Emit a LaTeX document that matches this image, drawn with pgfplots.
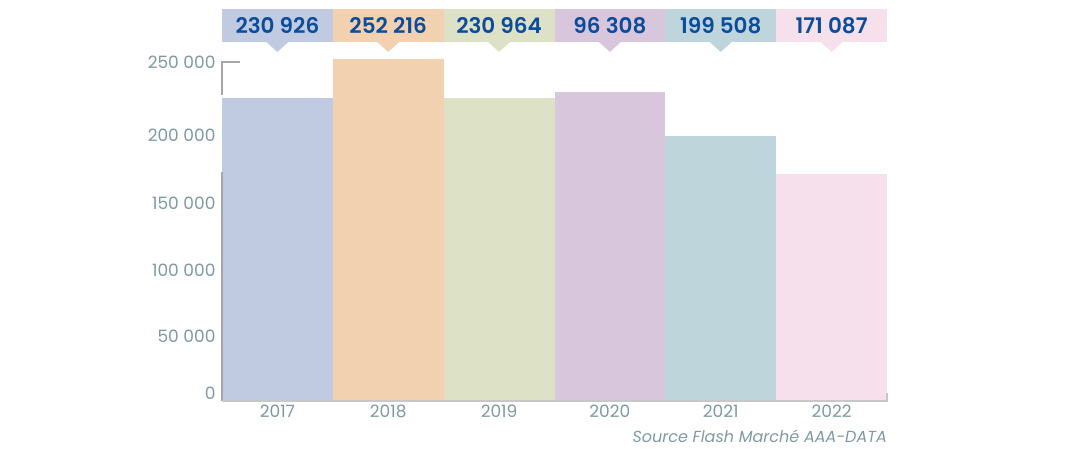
\documentclass[border=0pt]{standalone}
\usepackage{pgfplots}
\pgfplotsset{compat=1.18}
\usepackage{fontspec}
\setmainfont{Poppins}[BoldFont={Poppins SemiBold}]
\definecolor{c1}{HTML}{C0CAE1}
\definecolor{c2}{HTML}{F2D1B1}
\definecolor{c3}{HTML}{DDE1C6}
\definecolor{c4}{HTML}{D8C6DD}
\definecolor{c5}{HTML}{BDD5DB}
\definecolor{c6}{HTML}{F6E0EC}
\definecolor{tickc}{HTML}{7F99A2}
\definecolor{numc}{HTML}{0B4C9B}
\definecolor{linec}{HTML}{A6A6A6}
\definecolor{basec}{HTML}{C8C8C8}
\newcommand{\callout}[4]{%
  \fill[#3] (axis cs:#1,264750) rectangle (axis cs:#2,289100);
  \fill[#3] (axis cs:#1+0.4,264750) -- (axis cs:#1+0.5,257400) -- (axis cs:#1+0.6,264750) -- cycle;
  \node[text=numc, inner sep=0pt, font=\fontsize{21.5}{21.5}\selectfont\bfseries] at (axis cs:#1+0.5,276900) {#4};
}
\begin{document}
\begin{tikzpicture}
\path[use as bounding box] (-222pt,-50pt) rectangle (856pt,401pt);
\begin{axis}[at={(0,0)}, anchor=south west, scale only axis,
  width=665pt, height=352.6pt,
  xmin=-0.5, xmax=5.5, ymin=0, ymax=260000, clip=false,
  axis line style={draw=none}, major tick length=0pt,
  xtick={0,1,2,3,4,5}, xticklabels={2017,2018,2019,2020,2021,2022},
  ytick={5900,47900,96600,146000,196200,250000},
  yticklabels={0,50 000,100 000,150 000,200 000,250 000},
  tick label style={font=\fontsize{17}{17}\selectfont, text=tickc},
  /pgf/number format/assume math mode=true,
  yticklabel style={xshift=-3pt},
  xticklabel style={yshift=0pt},
  ]
\addplot[ybar, bar width=1, bar shift=0pt, fill=c1, draw=none] coordinates {(0,223500)};
\addplot[ybar, bar width=1, bar shift=0pt, fill=c2, draw=none] coordinates {(1,252216)};
\addplot[ybar, bar width=1, bar shift=0pt, fill=c3, draw=none] coordinates {(2,223500)};
\addplot[ybar, bar width=1, bar shift=0pt, fill=c4, draw=none] coordinates {(3,228000)};
\addplot[ybar, bar width=1, bar shift=0pt, fill=c5, draw=none] coordinates {(4,195500)};
\addplot[ybar, bar width=1, bar shift=0pt, fill=c6, draw=none] coordinates {(5,167500)};
% axis decorations
\draw[linec, line width=1.8pt] (axis cs:-0.34,250000) -- (axis cs:-0.5,250000) -- (axis cs:-0.5,225600);
\draw[linec, line width=1.2pt] (axis cs:-0.5,0) -- (axis cs:-0.5,168900);
\draw[basec, line width=1.2pt] (axis cs:-0.5,0) -- (axis cs:5.5,0) -- (axis cs:5.5,5900);
% callouts
\callout{-0.5}{0.5}{c1}{230 926}
\callout{0.5}{1.5}{c2}{252 216}
\callout{1.5}{2.5}{c3}{230 964}
\callout{2.5}{3.5}{c4}{96 308}
\callout{3.5}{4.5}{c5}{199 508}
\callout{4.5}{5.5}{c6}{171 087}
\node[anchor=north east, inner xsep=0pt, yshift=-25pt, font=\fontsize{16}{16}\selectfont\itshape, text=tickc] at (axis cs:5.5,0) {Source Flash Marché AAA-DATA};
\end{axis}
\end{tikzpicture}
\end{document}
